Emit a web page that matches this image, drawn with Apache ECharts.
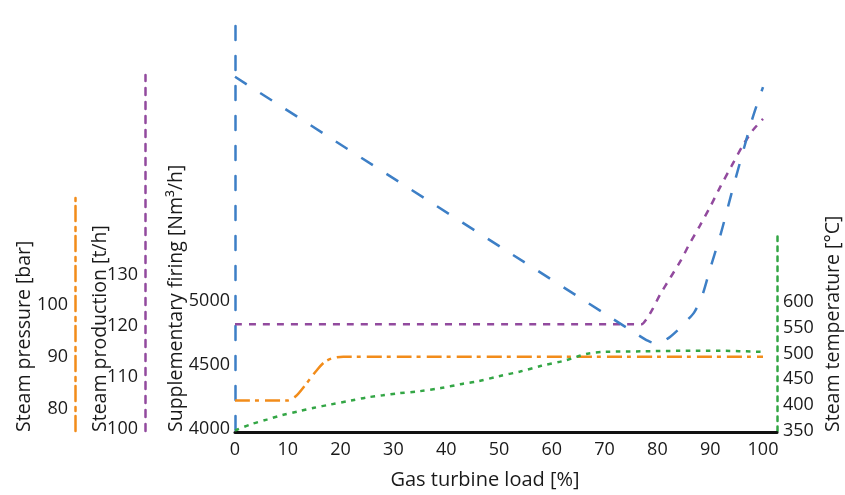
<!DOCTYPE html>
<html>
<head>
<meta charset="utf-8">
<script src="https://cdn.jsdelivr.net/npm/echarts@6/dist/echarts.min.js"></script>
<style>
  html, body { margin: 0; padding: 0; background: #fff; }
  #chart { width: 845px; height: 495px; }
</style>
</head>
<body>
<div id="chart"></div>
<script>
// gas turbine load [%]
const loadTicks = [0, 10, 20, 30, 40, 50, 60, 70, 80, 90, 100];

// supplementary firing [Nm3/h]
const firingLoad = [0, 76, 78, 79.5, 81, 82.5, 84, 85.5, 87, 88.5, 90, 92, 94, 96, 98, 100];
const firingValues = [6745, 4740, 4690, 4668, 4680, 4720, 4775, 4840, 4910, 5040, 5250, 5520, 5830, 6130, 6420, 6665];
const firingTicks = [4000, 4500, 5000];

// steam production [t/h]
const productionLoad = [0, 77, 78, 79, 80.5, 82.5, 84.5, 86, 88, 90, 92, 94, 96, 98, 100];
const productionValues = [120.4, 120.4, 121.5, 123.2, 126.2, 129.6, 133, 136, 139.6, 143.4, 147.5, 151.3, 155.1, 158.3, 160.6];
const productionTicks = [100, 110, 120, 130];

// steam pressure [bar]
const pressureLoad = [0, 10, 11.5, 13.5, 15.5, 17, 18.5, 20.5, 100];
const pressureValues = [81.6, 81.6, 82.4, 84.8, 87.4, 89, 89.7, 90, 90];
const pressureTicks = [80, 90, 100];

// steam temperature [°C]
const temperatureLoad = [0, 3, 6, 9, 12, 15, 18, 22, 25, 28, 31, 35, 39, 43, 46, 50, 54, 58, 62, 64, 65.5, 67, 70, 77, 84, 92, 100];
const temperatureValues = [351, 363, 372, 381, 388, 395, 401, 409, 415, 419, 423, 427, 433, 441, 446, 456, 465, 476, 485, 491, 496, 500, 503, 504, 505, 505, 503];
const temperatureTicks = [350, 400, 450, 500, 550, 600];

const colors = {
  firing: '#3d7fc6',
  production: '#924a9e',
  pressure: '#f28c1a',
  temperature: '#33a645',
};

const FONT = '"Open Sans", "Noto Sans", sans-serif';
const TEXT = '#1a1a1a';

const zip = (xs, ys) => xs.map((x, i) => [x, ys[i]]);
const plain = (v) => String(v);

const chart = echarts.init(document.getElementById('chart'));

const gridBase = { left: 235, right: 68, bottom: 64 };

const hiddenX = (gridIndex) => ({
  type: 'value', gridIndex, min: 0, max: 102.65, show: false,
});

const yAxisFor = (gridIndex, opts) => ({
  type: 'value',
  gridIndex,
  position: opts.position || 'left',
  offset: opts.offset || 0,
  min: opts.min,
  max: opts.max,
  axisLine: {
    show: true,
    onZero: false,
    lineStyle: { color: opts.color, width: 2.5, type: opts.dash },
  },
  axisTick: { show: false },
  splitLine: { show: false },
  axisLabel: {
    customValues: opts.ticks,
    formatter: plain,
    color: TEXT,
    fontSize: 18,
    fontFamily: FONT,
    margin: opts.margin,
  },
});

const nameText = (text, x, y) => ({
  type: 'text',
  x, y,
  rotation: Math.PI / 2,
  style: {
    text,
    fill: TEXT,
    font: '19.5px ' + FONT,
    textAlign: 'left',
    textVerticalAlign: 'middle',
    align: 'left',
    verticalAlign: 'middle',
  },
});

const option = {
  backgroundColor: '#fff',
  animation: false,
  grid: [
    { ...gridBase, top: 14 },
    { ...gridBase, top: 75 },
    { ...gridBase, top: 198 },
    { ...gridBase, top: 231 },
  ],
  xAxis: [
    {
      type: 'value',
      gridIndex: 0,
      min: 0,
      max: 102.65,
      offset: 2,
      name: 'Gas turbine load [%]',
      nameLocation: 'middle',
      nameGap: 38,
      nameTextStyle: { color: TEXT, fontSize: 20, fontFamily: FONT, padding: [0, 42, 0, 0] },
      axisLine: { onZero: false, lineStyle: { color: '#111', width: 3 } },
      axisTick: { show: false },
      splitLine: { show: false },
      axisLabel: {
        customValues: loadTicks,
        formatter: plain,
        color: TEXT,
        fontSize: 18,
        fontFamily: FONT,
        margin: 9,
      },
    },
    hiddenX(1),
    hiddenX(2),
    hiddenX(3),
  ],
  yAxis: [
    yAxisFor(0, { min: 3990, max: 7235, color: colors.firing, dash: [14, 16], ticks: firingTicks, margin: 5 }),
    yAxisFor(1, { offset: 90, min: 99.5, max: 169.2, color: colors.production, dash: [7, 7], ticks: productionTicks, margin: 7 }),
    yAxisFor(2, { offset: 160, min: 75.75, max: 120.4, color: colors.pressure, dash: [15, 5, 4, 6], ticks: pressureTicks, margin: 7 }),
    yAxisFor(3, { position: 'right', min: 350, max: 736.7, color: colors.temperature, dash: [4.5, 5.5], ticks: temperatureTicks, margin: 6 }),
  ],
  series: [
    {
      name: 'Steam pressure',
      type: 'line',
      xAxisIndex: 2, yAxisIndex: 2,
      data: zip(pressureLoad, pressureValues),
      smooth: 0.3,
      symbol: 'none',
      lineStyle: { color: colors.pressure, width: 2.5, type: [15, 5, 4, 6] },
      z: 2,
    },
    {
      name: 'Steam production',
      type: 'line',
      xAxisIndex: 1, yAxisIndex: 1,
      data: zip(productionLoad, productionValues),
      smooth: 0.2,
      symbol: 'none',
      lineStyle: { color: colors.production, width: 2.5, type: [7, 7] },
      z: 3,
    },
    {
      name: 'Supplementary firing',
      type: 'line',
      xAxisIndex: 0, yAxisIndex: 0,
      data: zip(firingLoad, firingValues),
      smooth: 0.3,
      symbol: 'none',
      lineStyle: { color: colors.firing, width: 2.5, type: [14, 16] },
      z: 4,
    },
    {
      name: 'Steam temperature',
      type: 'line',
      xAxisIndex: 3, yAxisIndex: 3,
      data: zip(temperatureLoad, temperatureValues),
      smooth: 0.3,
      symbol: 'none',
      lineStyle: { color: colors.temperature, width: 2.5, type: [4.5, 5.5] },
      z: 5,
    },
  ],
  graphic: [
    nameText('Steam pressure [bar]', 24, 432),
    nameText('Steam production [t/h]', 100, 432),
    nameText('Supplementary firing [Nm³/h]', 176, 432),
    nameText('Steam temperature [°C]', 833, 432),
  ],
};

chart.setOption(option);

window.addEventListener('resize', () => chart.resize());
</script>
</body>
</html>
